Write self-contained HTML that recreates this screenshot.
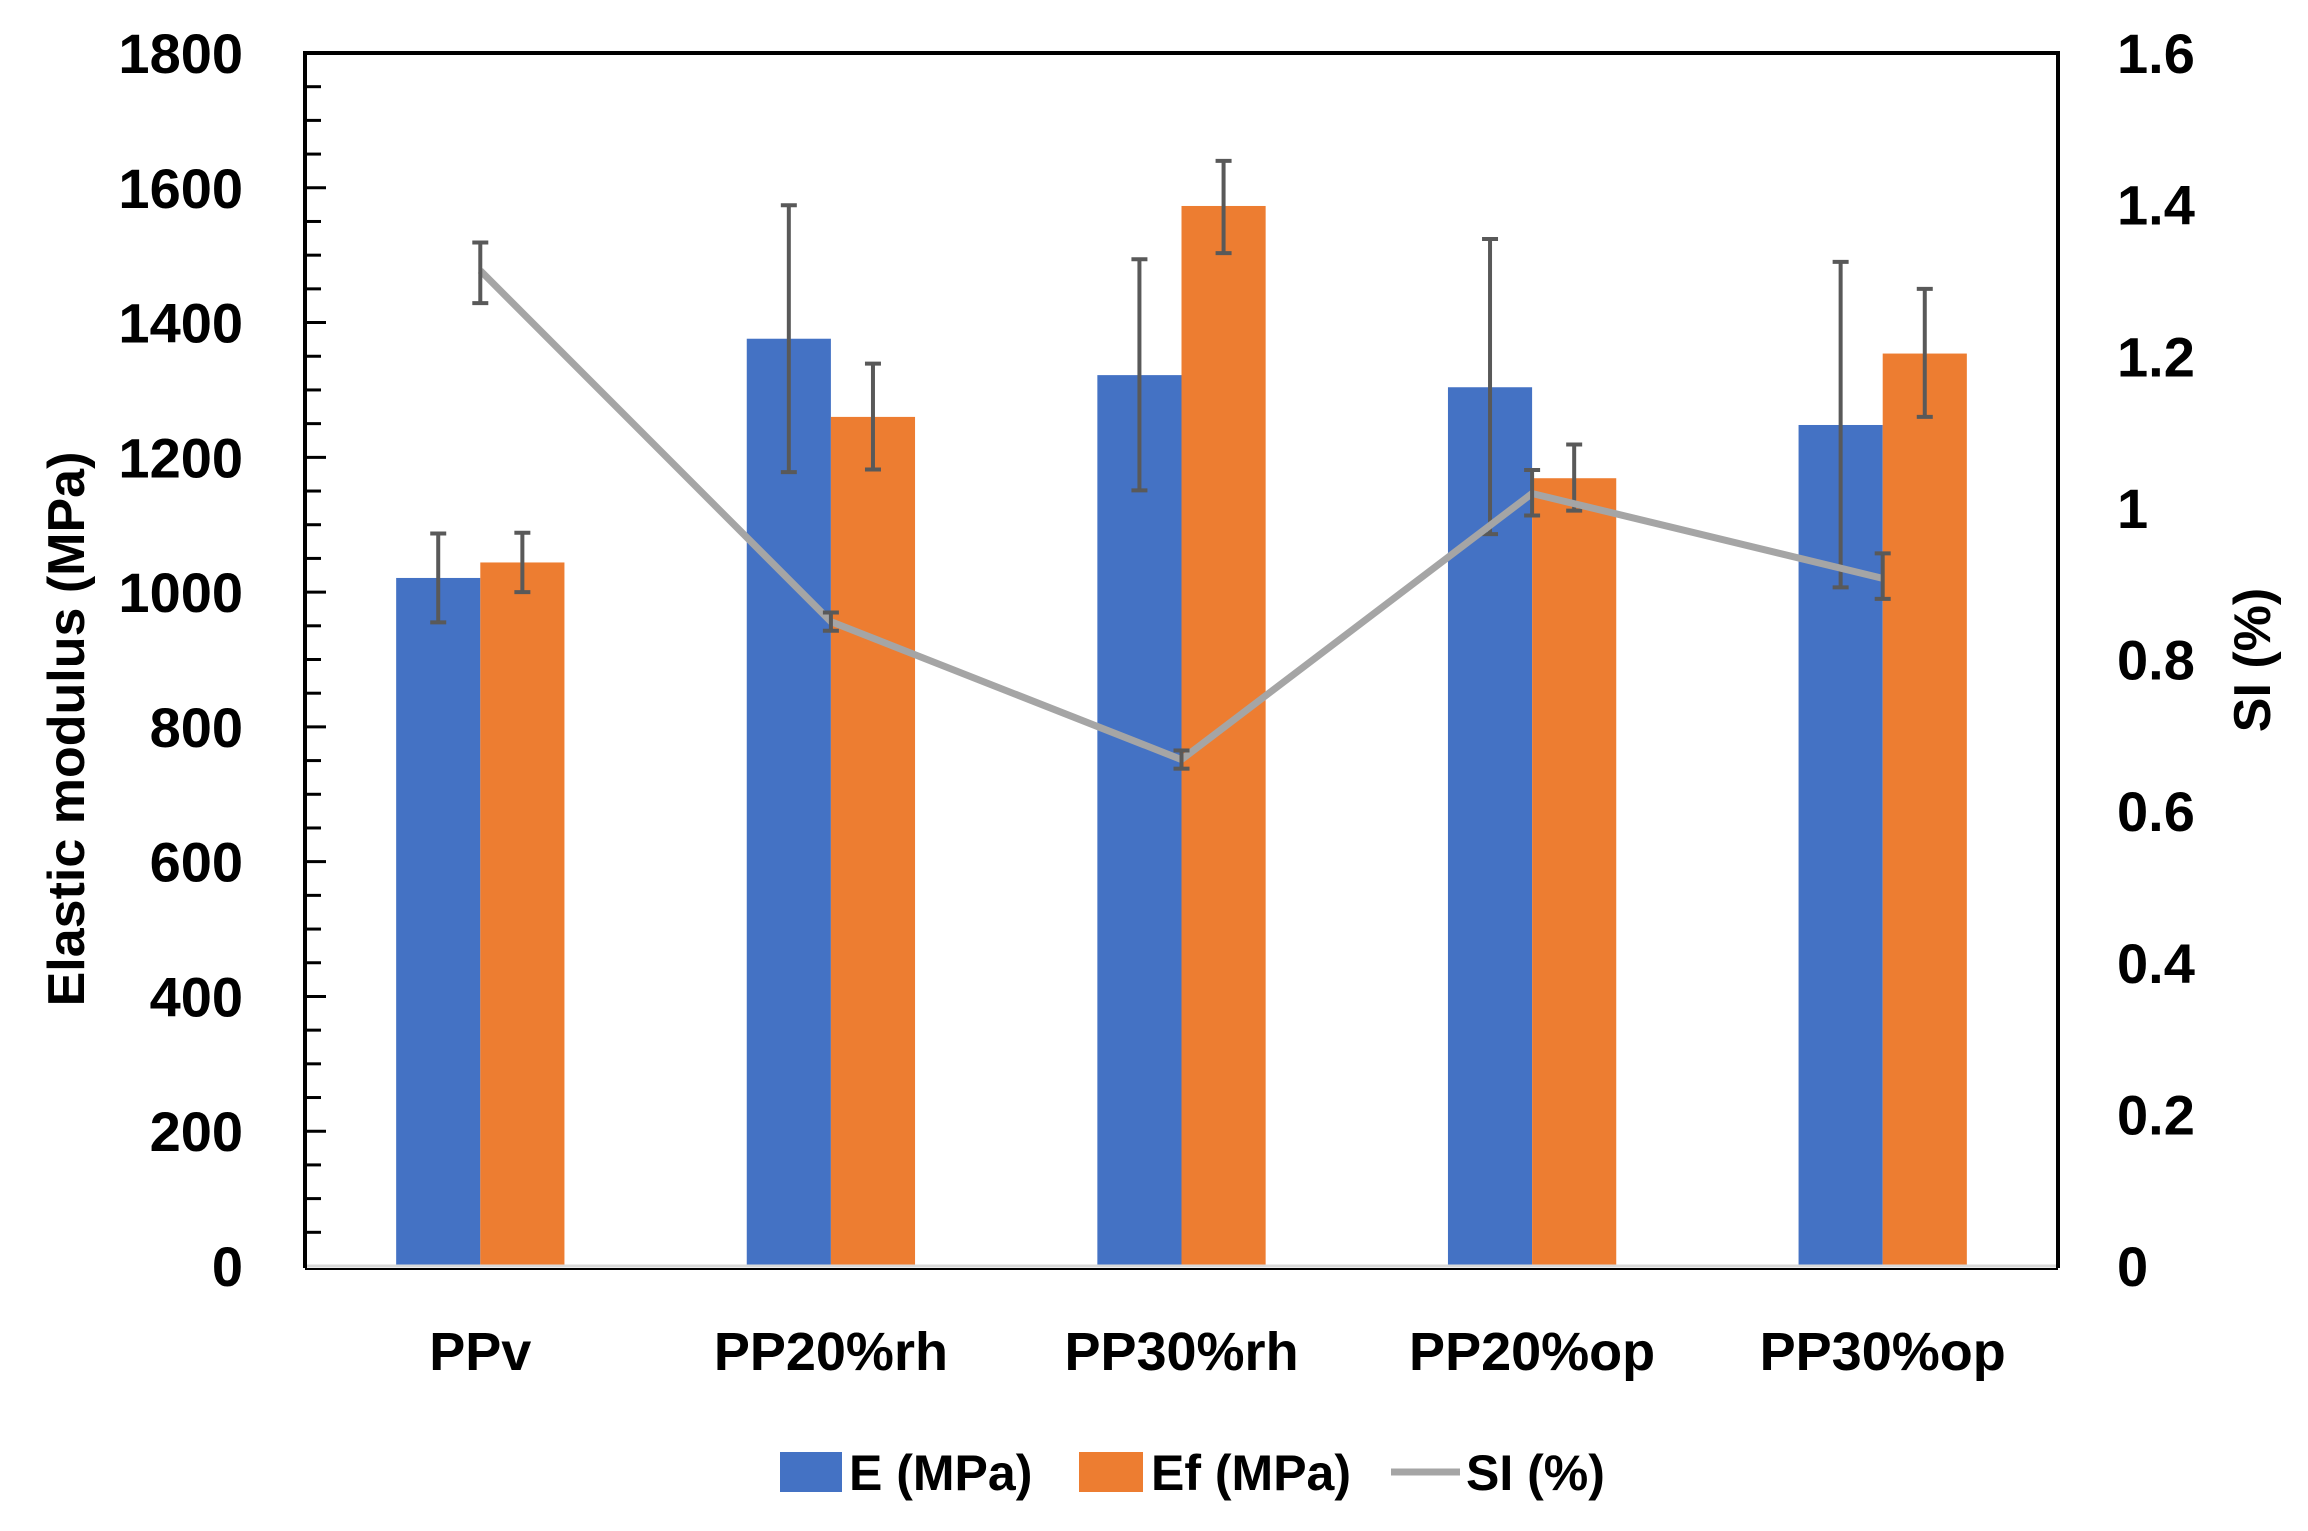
<!DOCTYPE html>
<html><head><meta charset="utf-8"><style>
html,body{margin:0;padding:0;background:#fff;}
svg{display:block;font-family:"Liberation Sans",sans-serif;font-weight:bold;}
</style></head><body>
<svg id="chart" width="2308" height="1531" viewBox="0 0 2308 1531" xmlns="http://www.w3.org/2000/svg"></svg>
<script>
const categories = ["PPv","PP20%rh","PP30%rh","PP20%op","PP30%op"];
const eValues = [1021, 1376, 1322, 1304, 1248];
const eErrLow = [955, 1178, 1151, 1086, 1007];
const eErrHigh = [1087, 1574, 1494, 1524, 1490];
const efValues = [1044, 1260, 1573, 1169, 1354];
const efErrLow = [1000, 1182, 1503, 1121, 1260];
const efErrHigh = [1088, 1339, 1640, 1219, 1450];
const siValues = [1.313, 0.850, 0.668, 1.019, 0.907];
const siErrLow = [1.27, 0.838, 0.656, 0.99, 0.88];
const siErrHigh = [1.35, 0.862, 0.68, 1.05, 0.94];
const leftTicks = [0,200,400,600,800,1000,1200,1400,1600,1800];
const rightTicks = [0,0.2,0.4,0.6,0.8,1,1.2,1.4,1.6];

const NS="http://www.w3.org/2000/svg";
const svg=document.getElementById('chart');
const L=305,R=2058,T=53,B=1266;
const yL=v=>B-(v/1800)*(B-T);
const yR=v=>B-(v/1.6)*(B-T);
const cw=(R-L)/categories.length;
const xC=i=>L+cw*(i+0.5);
const bw=cw*0.24;
function mk(tag,attrs,parent){const e=document.createElementNS(NS,tag);for(const k in attrs)e.setAttribute(k,attrs[k]);(parent||svg).appendChild(e);return e;}

leftTicks.forEach(v=>{
  const t=mk('text',{x:243,y:yL(v)+20,'text-anchor':'end','font-size':56});
  
  
  t.textContent=v;
});
for(let v=50;v<1800;v+=50){
  const major=v%200===0;
  const ln=mk('line',{x1:L,x2:L+(major?21:16),y1:yL(v),y2:yL(v),stroke:'#000','stroke-width':3});
  
  
}
rightTicks.forEach(v=>{
  const t=mk('text',{x:2117,y:yR(v)+20,'text-anchor':'start','font-size':56});
  
  
  t.textContent=v;
});

categories.forEach((c,i)=>{
  const cx=xC(i);
  const b1=mk('rect',{x:cx-bw,y:yL(eValues[i]),width:bw,height:B-yL(eValues[i]),fill:'#4472c4'});
  
  
  const b2=mk('rect',{x:cx,y:yL(efValues[i]),width:bw,height:B-yL(efValues[i]),fill:'#ed7d31'});
  
  
});
function err(x,y1,y2,name){
  const g=mk('g',{stroke:'#595959','stroke-width':4});
  
  
  mk('line',{x1:x,x2:x,y1:y1,y2:y2},g);
  mk('line',{x1:x-8,x2:x+8,y1:y1,y2:y1},g);
  mk('line',{x1:x-8,x2:x+8,y1:y2,y2:y2},g);
}
categories.forEach((c,i)=>{
  const cx=xC(i);
  err(cx-bw/2,yL(eErrLow[i]),yL(eErrHigh[i]),'error-bar-e');
  err(cx+bw/2,yL(efErrLow[i]),yL(efErrHigh[i]),'error-bar-ef');
});
const pts=siValues.map((v,i)=>xC(i)+','+yR(v)).join(' ');
const pl=mk('polyline',{points:pts,fill:'none',stroke:'#a5a5a5','stroke-width':7,'stroke-linejoin':'round'});


categories.forEach((c,i)=>err(xC(i),yR(siErrLow[i]),yR(siErrHigh[i]),'error-bar-si'));

const bl=mk('line',{x1:L,x2:R,y1:B,y2:B,stroke:'#d9d9d9','stroke-width':3});


const fr=mk('path',{d:`M${L},${B+2} L${L},${T} L${R},${T} L${R},${B+2}`,fill:'none',stroke:'#000','stroke-width':4});


const bl2=mk('line',{x1:L,x2:R,y1:B+3,y2:B+3,stroke:'#000','stroke-width':2});



categories.forEach((c,i)=>{
  const t=mk('text',{x:xC(i),y:1370,'text-anchor':'middle','font-size':54});
  
  
  t.textContent=c;
});
const yt=mk('text',{x:0,y:0,'text-anchor':'middle','font-size':52,transform:'translate(84,729) rotate(-90)'});


yt.textContent='Elastic modulus (MPa)';
const rt=mk('text',{x:0,y:0,'text-anchor':'middle','font-size':52,transform:'translate(2270,660) rotate(-90)'});


rt.textContent='SI (%)';

const lg=mk('g',{});


const s1=mk('rect',{x:780,y:1452,width:62,height:40,fill:'#4472c4'},lg);


const t1=mk('text',{x:849,y:1490,'font-size':50},lg);


t1.textContent='E (MPa)';
const s2=mk('rect',{x:1079,y:1452,width:64,height:40,fill:'#ed7d31'},lg);


const t2=mk('text',{x:1151,y:1490,'font-size':50},lg);


t2.textContent='Ef (MPa)';
const s3=mk('line',{x1:1391,x2:1460,y1:1472,y2:1472,stroke:'#a5a5a5','stroke-width':7},lg);


const t3=mk('text',{x:1466,y:1490,'font-size':50},lg);


t3.textContent='SI (%)';
</script>
</body></html>
